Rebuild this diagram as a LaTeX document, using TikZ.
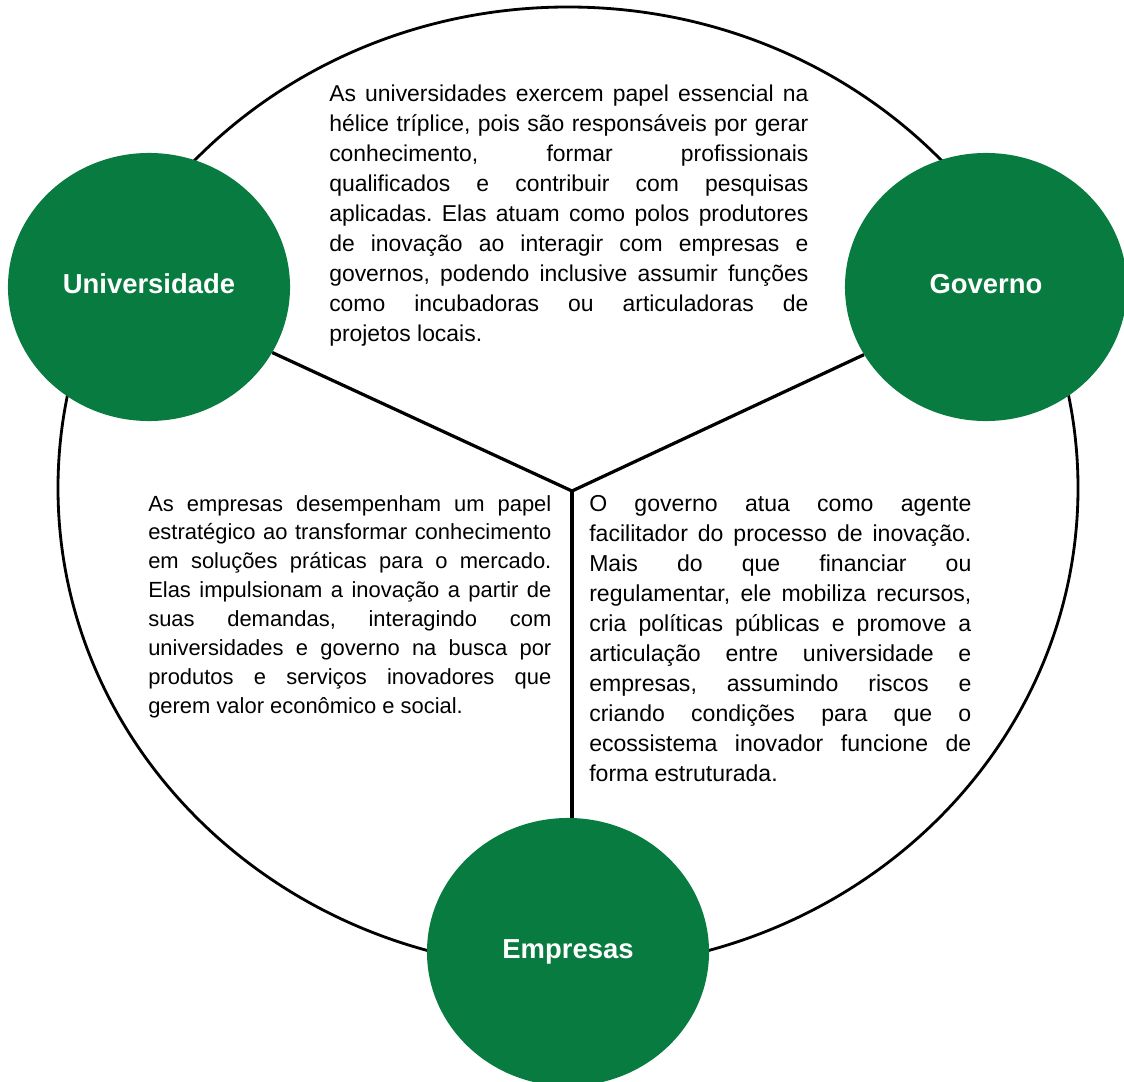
\documentclass[tikz,border=0pt]{standalone}
\usepackage{fontspec}
\setmainfont{Liberation Sans}
\usetikzlibrary{shapes.geometric}
\definecolor{helixgreen}{RGB}{8,124,64}
\hyphenpenalty=10000
\exhyphenpenalty=10000
\hbadness=10000
\frenchspacing
\begin{document}
\begin{tikzpicture}[x=0.025cm,y=-0.025cm,
  actor/.style={ellipse, fill=helixgreen, draw=none, inner sep=0pt,
    minimum width=7.05cm, minimum height=6.7cm, text=white,
    text height=14pt, text depth=4.2pt,
    font=\fontsize{19.5}{23}\selectfont\bfseries},
  outline/.style={line width=2pt, black},
  link/.style={line width=2.3pt, black},
  para/.style={anchor=base west, inner sep=0pt, align=justify, text=black},
]
\useasboundingbox (0,0) rectangle (1124,1082);

% outer ring of the triple helix
\draw[outline] (568,488) ellipse [x radius=510, y radius=481];

% the three actors
\node[actor] (univ) at (149,287) {Universidade};
\node[actor] (gov)  at (986,287) {Governo};
\node[actor] (emp)  at (568,952) {Empresas};

% dividing lines meeting in the middle
\coordinate (junction) at (572,491);
\draw[link] (junction) -- (univ.332);
\draw[link] (junction) -- (gov.209);
\draw[link] (junction) -- (junction |- emp.north);

% descriptions
\node[para, text width=11.975cm, font=\fontsize{16.3}{21.3}\selectfont] (tuniv) at (329,102)
{As universidades exercem papel essencial na\linebreak
hélice tríplice, pois são responsáveis por gerar\linebreak
conhecimento, formar profissionais\linebreak
qualificados e contribuir com pesquisas\linebreak
aplicadas. Elas atuam como polos produtores\linebreak
de inovação ao interagir com empresas e\linebreak
governos, podendo inclusive assumir funções\linebreak
como incubadoras ou articuladoras de\linebreak
projetos locais.};

\node[para, text width=10.075cm, font=\fontsize{15.6}{20.6}\selectfont] (temp) at (148,511)
{As empresas desempenham um papel\linebreak
estratégico ao transformar conhecimento\linebreak
em soluções práticas para o mercado.\linebreak
Elas impulsionam a inovação a partir de\linebreak
suas demandas, interagindo com\linebreak
universidades e governo na busca por\linebreak
produtos e serviços inovadores que\linebreak
gerem valor econômico e social.};

\node[para, text width=9.55cm, font=\fontsize{16.4}{21.4}\selectfont] (tgov) at (589,511)
{O governo atua como agente\linebreak
facilitador do processo de inovação.\linebreak
Mais do que financiar ou\linebreak
regulamentar, ele mobiliza recursos,\linebreak
cria políticas públicas e promove a\linebreak
articulação entre universidade e\linebreak
empresas, assumindo riscos e\linebreak
criando condições para que o\linebreak
ecossistema inovador funcione de\linebreak
forma estruturada.};
\end{tikzpicture}
\end{document}
